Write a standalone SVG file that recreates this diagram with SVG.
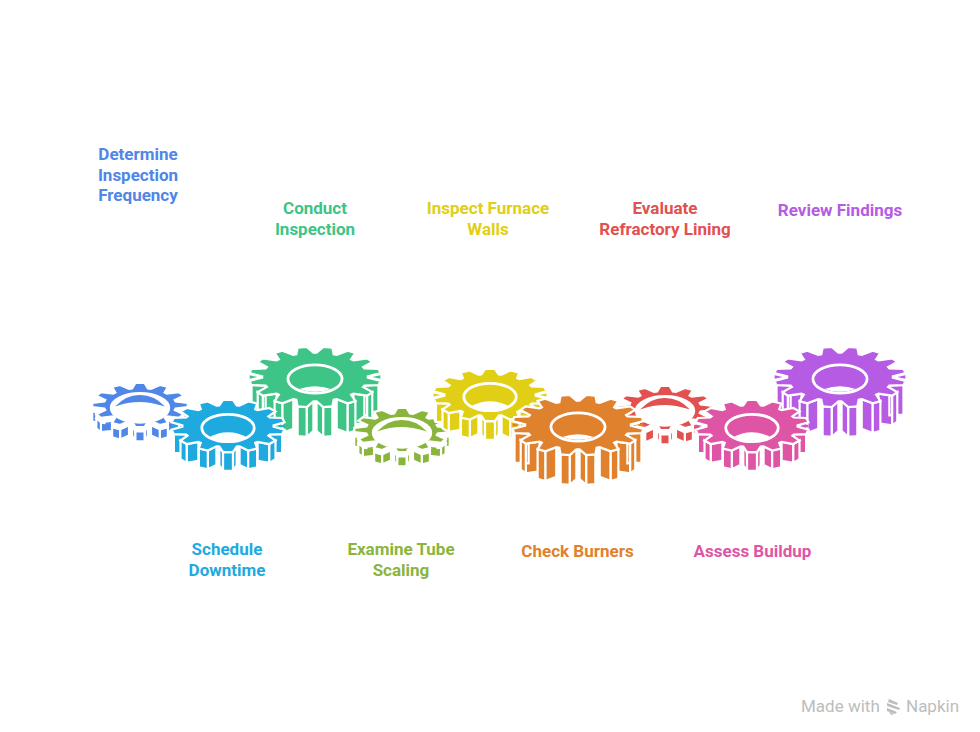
<svg xmlns="http://www.w3.org/2000/svg" xmlns:xlink="http://www.w3.org/1999/xlink" width="980" height="732" viewBox="0 0 980 732">
<style>
.s polygon,.b path{stroke:#fff;stroke-width:2.2;stroke-linejoin:miter;vector-effect:non-scaling-stroke}
.s ellipse{stroke:#fff;stroke-width:2.8;vector-effect:non-scaling-stroke}
.w{fill:#fff}
text{font-family:Roboto,"Liberation Sans",sans-serif;font-size:17px;font-weight:700;text-anchor:middle}
.wm{font-weight:400;font-size:17px;fill:#bdbdbd;text-anchor:start}
</style>
<defs>
<g id="hL" class="b">
<path d="M96.5 12.1L74.8 13V58L96.5 57.1ZM79.1 28.2L58.3 25.2V70.2L79.1 73.2ZM49.6 39.9L32.9 33.6V78.6L49.6 84.9ZM12.6 45.6L2.4 36.8V81.8L12.6 90.6Z"/>
<path d="M99.2 5.8L96.5 12.1V57.1L99.2 50.8ZM86.8 22.8L79.1 28.2V73.2L86.8 67.8ZM61.2 36.4L49.6 39.9V84.9L61.2 81.4ZM26.3 44.4L12.6 45.6V90.6L26.3 89.4Z"/>
</g>
<g id="gL" class="s">
<use href="#hL"/><use href="#hL" transform="scale(-1,1)"/>
<polygon points="80,1.1 99.2,5.8 96.5,12.1 74.8,13 72.9,15.1 86.8,22.8 79.1,28.2 58.3,25.2 54.8,26.8 61.2,36.4 49.6,39.9 32.9,33.6 28.3,34.4 26.3,44.4 12.6,45.6 2.4,36.8 -2.4,36.8 -12.6,45.6 -26.3,44.4 -28.3,34.4 -32.9,33.6 -49.6,39.9 -61.2,36.4 -54.8,26.8 -58.3,25.2 -79.1,28.2 -86.8,22.8 -72.9,15.1 -74.8,13 -96.5,12.1 -99.2,5.8 -80,1.1 -80,-1.1 -99.2,-5.8 -96.5,-12.1 -74.8,-13 -72.9,-15.1 -86.8,-22.8 -79.1,-28.2 -58.3,-25.2 -54.8,-26.8 -61.2,-36.4 -49.6,-39.9 -32.9,-33.6 -28.3,-34.4 -26.3,-44.4 -12.6,-45.6 -2.4,-36.8 2.4,-36.8 12.6,-45.6 26.3,-44.4 28.3,-34.4 32.9,-33.6 49.6,-39.9 61.2,-36.4 54.8,-26.8 58.3,-25.2 79.1,-28.2 86.8,-22.8 72.9,-15.1 74.8,-13 96.5,-12.1 99.2,-5.8 80,-1.1"/>
<path d="M87 0L99 -2.5V2.5ZM-87 0L-99 -2.5V2.5Z"/>
<ellipse cx="0" cy="3" rx="41" ry="21.5"/>
<path class="w" d="M-24 18Q0 10 24 18Q0 27 -24 18Z"/>
</g>
<g id="hM" class="b">
<path d="M95.2 14.1L73.2 14.9V47.9L95.2 47.1ZM72.5 31.7L51.9 28V61L72.5 64.7ZM35.4 43L20.3 35.6V68.6L35.4 76ZM8.7 45.8L15.3 36.1V69.1L8.7 78.8Z"/>
<path d="M99.1 6.3L95.2 14.1V47.1L99.1 39.3ZM83.3 25.4L72.5 31.7V64.7L83.3 58.4ZM51.1 39.5L35.4 43V76L51.1 72.5ZM8.7 45.8H-8.7V78.8H8.7Z"/>
</g>
<g id="gM" class="s">
<use href="#hM"/><use href="#hM" transform="scale(-1,1)"/>
<polygon points="80,1.2 99.1,6.3 95.2,14.1 73.2,14.9 70.9,17 83.3,25.4 72.5,31.7 51.9,28 47.8,29.5 51.1,39.5 35.4,43 20.3,35.6 15.3,36.1 8.7,45.8 -8.7,45.8 -15.3,36.1 -20.3,35.6 -35.4,43 -51.1,39.5 -47.8,29.5 -51.9,28 -72.5,31.7 -83.3,25.4 -70.9,17 -73.2,14.9 -95.2,14.1 -99.1,6.3 -80,1.2 -80,-1.2 -99.1,-6.3 -95.2,-14.1 -73.2,-14.9 -70.9,-17 -83.3,-25.4 -72.5,-31.7 -51.9,-28 -47.8,-29.5 -51.1,-39.5 -35.4,-43 -20.3,-35.6 -15.3,-36.1 -8.7,-45.8 8.7,-45.8 15.3,-36.1 20.3,-35.6 35.4,-43 51.1,-39.5 47.8,-29.5 51.9,-28 72.5,-31.7 83.3,-25.4 70.9,-17 73.2,-14.9 95.2,-14.1 99.1,-6.3 80,-1.2"/>
<path d="M87 0L99 -2.5V2.5ZM-87 0L-99 -2.5V2.5Z"/>
<ellipse cx="0" cy="3.500" rx="46" ry="24"/>
<path class="w" d="M-34 20Q0 2 34 20Q0 34 -34 20Z"/>
</g>
<polygon id="fS" points="99.5,4.4 74.2,7.6 72.5,10.5 91,19.1 81.4,26.7 56,23.6 51.3,25.8 58.1,37.4 41.5,41.9 22.9,33.4 16.4,34.2 9.6,45.8 -9.6,45.8 -16.4,34.2 -22.9,33.4 -41.5,41.9 -58.1,37.4 -51.3,25.8 -56,23.6 -81.4,26.7 -91,19.1 -72.5,10.5 -74.2,7.6 -99.5,4.4 -99.5,-4.4 -74.2,-7.6 -72.5,-10.5 -91,-19.1 -81.4,-26.7 -56,-23.6 -51.3,-25.8 -58.1,-37.4 -41.5,-41.9 -22.9,-33.4 -16.4,-34.2 -9.6,-45.8 9.6,-45.8 16.4,-34.2 22.9,-33.4 41.5,-41.9 58.1,-37.4 51.3,-25.8 56,-23.6 81.4,-26.7 91,-19.1 72.5,-10.5 74.2,-7.6 99.5,-4.4" stroke="#fff" stroke-width="2.2" vector-effect="non-scaling-stroke"/>
<g id="hS" class="b">
<path d="M99.5 4.4L74.2 7.6V37.6L99.5 34.4ZM81.4 26.7L56 23.6V53.6L81.4 56.7ZM41.5 41.9L22.9 33.4V63.4L41.5 71.9ZM9.6 45.8L16.4 34.2V64.2L9.6 75.8Z"/>
<path d="M91 19.1L81.4 26.7V56.7L91 49.1ZM58.1 37.4L41.5 41.9V71.9L58.1 67.4ZM9.6 45.8H-9.6V75.8H9.6Z"/>
</g>
<g id="gS" class="s">
<use href="#hS"/><use href="#hS" transform="scale(-1,1)"/>
<use href="#fS" class="w" transform="translate(0,9)"/>
<use href="#fS"/>
<ellipse class="w" cx="0" cy="6" rx="60" ry="30"/>
<path d="M-52 3Q-28 -22 0 -21Q30 -21 52 3Q20 -6 0 -6Q-25 -6 -52 3Z"/>
</g>
</defs>
<rect width="980" height="732" fill="#fff"/>
<g id="gear-determine"><use href="#gS" fill="#4f86e8" transform="translate(140,405) scale(.48)"/></g>
<g id="gear-conduct"><use href="#gL" fill="#3ec486" transform="translate(315,377) scale(.66)"/></g>
<g id="gear-schedule"><use href="#gM" fill="#1eaadf" transform="translate(228,426) scale(.57)"/></g>
<g id="gear-examine"><use href="#gS" fill="#8ab53c" transform="translate(402,430) scale(.48)"/></g>
<g id="gear-walls"><use href="#gM" fill="#e0cf14" transform="translate(490,395) scale(.57)"/></g>
<g id="gear-refractory"><use href="#gS" fill="#e2504f" transform="translate(665,408) scale(.48)"/></g>
<g id="gear-burners"><use href="#gL" fill="#e0812e" transform="translate(578,425) scale(.66)"/></g>
<g id="gear-review"><use href="#gL" fill="#b65be3" transform="translate(840,377) scale(.66)"/></g>
<g id="gear-buildup"><use href="#gM" fill="#df55a6" transform="translate(752,426) scale(.57)"/></g>
<g id="labels">
<text fill="#4f86e8" x="138" y="160">Determine</text>
<text fill="#4f86e8" x="138" y="180.500">Inspection</text>
<text fill="#4f86e8" x="138" y="201">Frequency</text>
<text fill="#3ec486" x="315" y="214">Conduct</text>
<text fill="#3ec486" x="315" y="234.500">Inspection</text>
<text fill="#e0cf14" x="488" y="214">Inspect Furnace</text>
<text fill="#e0cf14" x="488" y="234.500">Walls</text>
<text fill="#e2504f" x="665" y="214">Evaluate</text>
<text fill="#e2504f" x="665" y="234.500">Refractory Lining</text>
<text fill="#b65be3" x="840" y="215.500">Review Findings</text>
<text fill="#1eaadf" x="227" y="555">Schedule</text>
<text fill="#1eaadf" x="227" y="575.500">Downtime</text>
<text fill="#8ab53c" x="401" y="555">Examine Tube</text>
<text fill="#8ab53c" x="401" y="575.500">Scaling</text>
<text fill="#e0812e" x="577.500" y="556.500">Check Burners</text>
<text fill="#df55a6" x="752.500" y="556.500">Assess Buildup</text>
</g>
<g id="watermark">
<text class="wm" x="801" y="712">Made with</text>
<path fill="#bdbdbd" d="M889 699l9 4-1 2-9-3zM887 703l13 5-1 2-12-4zM887 708l10 4-2 2-8-3zM889 712l5 2-3 1z"/>
<text class="wm" x="906" y="712">Napkin</text>
</g>
</svg>
